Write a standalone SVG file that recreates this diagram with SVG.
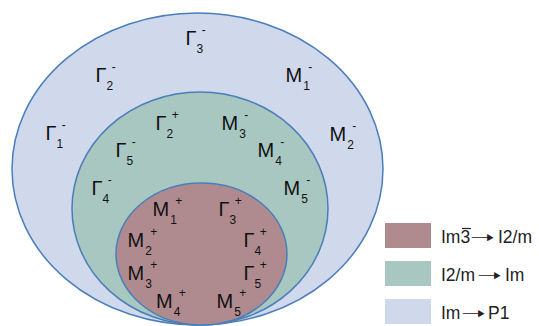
<svg xmlns="http://www.w3.org/2000/svg" width="539" height="326" viewBox="0 0 539 326">
<style>
.sh{stroke:#4a7ebb;stroke-width:1.5}
.o{fill:#d0d8ec}.m{fill:#a9c7c1}.i{fill:#af8b8f}
.l{font-family:"Liberation Sans",Arial,sans-serif;font-size:20px;fill:#111}
.s{font-size:12px}
.g{font-family:"Liberation Sans",Arial,sans-serif;font-size:17.5px;fill:#222}
.ar{font-family:"DejaVu Sans",sans-serif;font-size:17px;fill:#222}
</style>
<rect width="539" height="326" fill="#fff"/>
<g id="outer"><ellipse class="sh o" cx="197.5" cy="169" rx="185.5" ry="156"/></g>
<g id="middle"><ellipse class="sh m" cx="200" cy="208.5" rx="128" ry="116.5"/></g>
<g id="inner"><ellipse class="sh i" cx="201.5" cy="254" rx="85.5" ry="71"/></g>
<g id="connectors"></g>
<g id="labels" class="l">
<text x="185.5" y="45">Γ<tspan class="s" dy="8">3</tspan><tspan class="s" dx="-1.5" dy="-19">-</tspan></text>
<text x="95.5" y="82">Γ<tspan class="s" dy="8">2</tspan><tspan class="s" dx="-1.5" dy="-19">-</tspan></text>
<text x="285.5" y="82">M<tspan class="s" dx="1" dy="8">1</tspan><tspan class="s" dx="-1.5" dy="-19">-</tspan></text>
<text x="45.5" y="140">Γ<tspan class="s" dy="8">1</tspan><tspan class="s" dx="-1.5" dy="-19">-</tspan></text>
<text x="329.5" y="141">M<tspan class="s" dx="1" dy="8">2</tspan><tspan class="s" dx="-1.5" dy="-19">-</tspan></text>
<text x="155.5" y="130">Γ<tspan class="s" dy="8">2</tspan><tspan class="s" dx="-1.5" dy="-19">+</tspan></text>
<text x="221.5" y="130">M<tspan class="s" dx="1" dy="8">3</tspan><tspan class="s" dx="-1.5" dy="-19">-</tspan></text>
<text x="115.5" y="157">Γ<tspan class="s" dy="8">5</tspan><tspan class="s" dx="-1.5" dy="-19">-</tspan></text>
<text x="257.5" y="157">M<tspan class="s" dx="1" dy="8">4</tspan><tspan class="s" dx="-1.5" dy="-19">-</tspan></text>
<text x="91.5" y="195">Γ<tspan class="s" dy="8">4</tspan><tspan class="s" dx="-1.5" dy="-19">-</tspan></text>
<text x="283.5" y="195">M<tspan class="s" dx="1" dy="8">5</tspan><tspan class="s" dx="-1.5" dy="-19">-</tspan></text>
<text x="152.5" y="216">M<tspan class="s" dx="1" dy="8">1</tspan><tspan class="s" dx="-1.5" dy="-19">+</tspan></text>
<text x="218.5" y="216">Γ<tspan class="s" dy="8">3</tspan><tspan class="s" dx="-1.5" dy="-19">+</tspan></text>
<text x="127.5" y="247">M<tspan class="s" dx="1" dy="8">2</tspan><tspan class="s" dx="-1.5" dy="-19">+</tspan></text>
<text x="243.5" y="247">Γ<tspan class="s" dy="8">4</tspan><tspan class="s" dx="-1.5" dy="-19">+</tspan></text>
<text x="127.5" y="280">M<tspan class="s" dx="1" dy="8">3</tspan><tspan class="s" dx="-1.5" dy="-19">+</tspan></text>
<text x="243.5" y="280">Γ<tspan class="s" dy="8">5</tspan><tspan class="s" dx="-1.5" dy="-19">+</tspan></text>
<text x="156" y="308">M<tspan class="s" dx="1" dy="8">4</tspan><tspan class="s" dx="-1.5" dy="-19">+</tspan></text>
<text x="216.5" y="308">M<tspan class="s" dx="1" dy="8">5</tspan><tspan class="s" dx="-1.5" dy="-19">+</tspan></text>
</g>
<g id="legend">
<g id="leg1"><rect class="i" x="385" y="223" width="46" height="25"/>
<text class="g" x="441" y="243">Im3</text>
<line x1="462" y1="228.5" x2="471" y2="228.5" stroke="#222" stroke-width="1.2"/>
<text class="ar" transform="translate(470,243) scale(1.75,1)">➝</text>
<text class="g" x="498" y="243">I2/m</text></g>
<g id="leg2"><rect class="m" x="385" y="261" width="46" height="25"/>
<text class="g" x="441" y="281">I2/m</text>
<text class="ar" transform="translate(477,281) scale(1.75,1)">➝</text>
<text class="g" x="505" y="281">Im</text></g>
<g id="leg3"><rect class="o" x="385" y="299" width="46" height="25"/>
<text class="g" x="441" y="319">Im</text>
<text class="ar" transform="translate(461,319) scale(1.75,1)">➝</text>
<text class="g" x="488" y="319">P1</text></g>
</g>
</svg>
